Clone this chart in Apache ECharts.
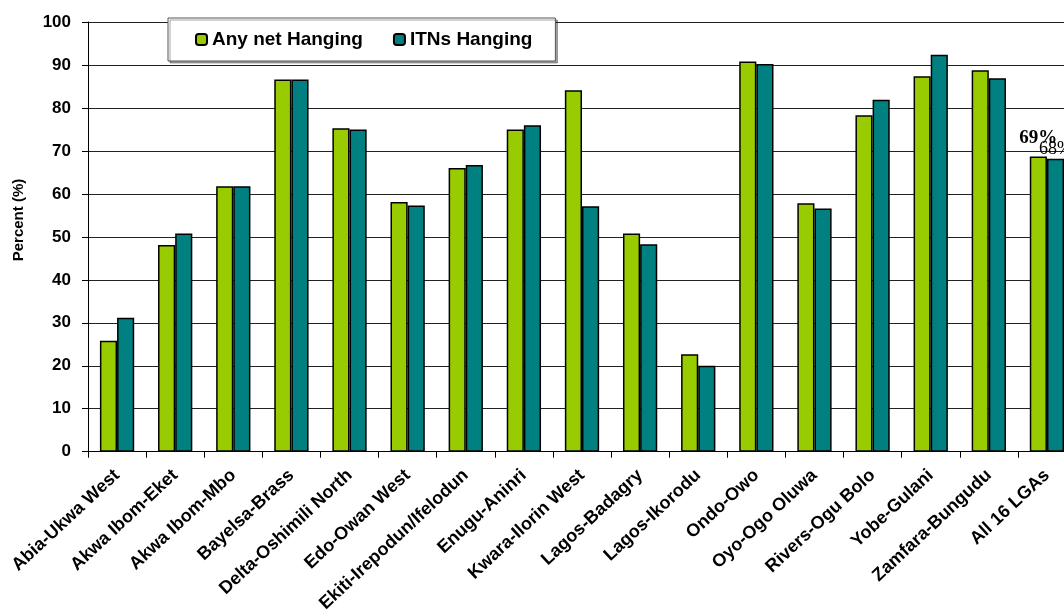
<!DOCTYPE html>
<html>
<head>
<meta charset="utf-8">
<script src="https://cdn.jsdelivr.net/npm/echarts@6/dist/echarts.min.js"></script>
<style>
html,body{margin:0;padding:0;background:#fff;overflow:hidden;width:1064px;height:615px;}
#chart{width:1076px;height:615px;}
</style>
</head>
<body>
<div id="chart"></div>
<script>
const categories = ["Abia-Ukwa West","Akwa Ibom-Eket","Akwa Ibom-Mbo","Bayelsa-Brass","Delta-Oshimili North","Edo-Owan West","Ekiti-Irepodun/Ifelodun","Enugu-Aninri","Kwara-Ilorin West","Lagos-Badagry","Lagos-Ikorodu","Ondo-Owo","Oyo-Ogo Oluwa","Rivers-Ogu Bolo","Yobe-Gulani","Zamfara-Bungudu","All 16 LGAs"];
const anyNet = [25.8,48.1,61.8,86.6,75.3,58.1,66.0,75.0,84.1,50.8,22.7,90.8,57.8,78.3,87.4,88.8,68.7];
const itns   = [31.2,50.8,61.8,86.6,75.0,57.3,66.7,76.0,57.1,48.3,20.0,90.2,56.6,81.9,92.4,86.9,68.2];
const seriesNames = ["Any net Hanging","ITNs Hanging"];
const yTicks = {min:0, max:100, interval:10};
const lastLabels = ["69%","68%"];

const font = "'Liberation Sans', Arial, sans-serif";
const serif = "'Liberation Serif', 'Times New Roman', serif";

function withLastLabel(arr, text, opts){
  return arr.map((v,i)=> i===arr.length-1 ? {value:v, label:Object.assign({show:true, position:'top', formatter:text}, opts)} : v);
}

const chart = echarts.init(document.getElementById('chart'), null, {renderer:'canvas', width:1076, height:615});
chart.setOption({
  animation:false,
  backgroundColor:'#fff',
  grid:{left:88, top:22, width:988, height:433, containLabel:false},
  legend:{
    left:168, top:18,
    padding:[12,23,12,27],
    itemWidth:11, itemHeight:11, itemGap:30,
    backgroundColor:'#fff',
    borderColor:'#555', borderWidth:1,
    shadowColor:'rgba(0,0,0,0.35)', shadowOffsetX:2, shadowOffsetY:2, shadowBlur:0,
    textStyle:{fontFamily:font, fontWeight:'bold', fontSize:19, color:'#000'},
    data:seriesNames
  },
  xAxis:{
    type:'category', data:categories,
    axisLine:{lineStyle:{color:'#000', width:1}},
    axisTick:{show:true, length:6, lineStyle:{color:'#000'}},
    axisLabel:{interval:0, rotate:43, margin:21, fontFamily:font, fontWeight:'bold', fontSize:18, color:'#000'}
  },
  yAxis:{
    type:'value', min:yTicks.min, max:yTicks.max, interval:yTicks.interval,
    axisLine:{show:true, lineStyle:{color:'#000', width:1}},
    axisTick:{show:true, length:6, lineStyle:{color:'#000'}},
    axisLabel:{margin:17, fontFamily:font, fontWeight:'bold', fontSize:17, color:'#000'},
    splitLine:{show:true, lineStyle:{color:'#222', width:1}}
  },
  graphic:[{
    type:'text', x:19, y:220, rotation:Math.PI/2,
    style:{text:'Percent (%)', font:"bold 15px 'Liberation Sans', Arial, sans-serif", fill:'#000', textAlign:'center', textVerticalAlign:'middle'}
  }],
  series:[
    {name:seriesNames[0], type:'bar', barGap:'0%', barCategoryGap:'41%',
     itemStyle:{color:'#99CC00', borderColor:'#000', borderWidth:1.5},
     data:withLastLabel(anyNet, lastLabels[0], {distance:9, fontFamily:serif, fontWeight:'bold', fontSize:19, color:'#000'})},
    {name:seriesNames[1], type:'bar', barGap:'0%', barCategoryGap:'41%',
     itemStyle:{color:'#008080', borderColor:'#000', borderWidth:1.5},
     data:withLastLabel(itns, lastLabels[1], {distance:0, fontFamily:serif, fontWeight:'normal', fontSize:18, color:'#000'})}
  ]
});
</script>
</body>
</html>
